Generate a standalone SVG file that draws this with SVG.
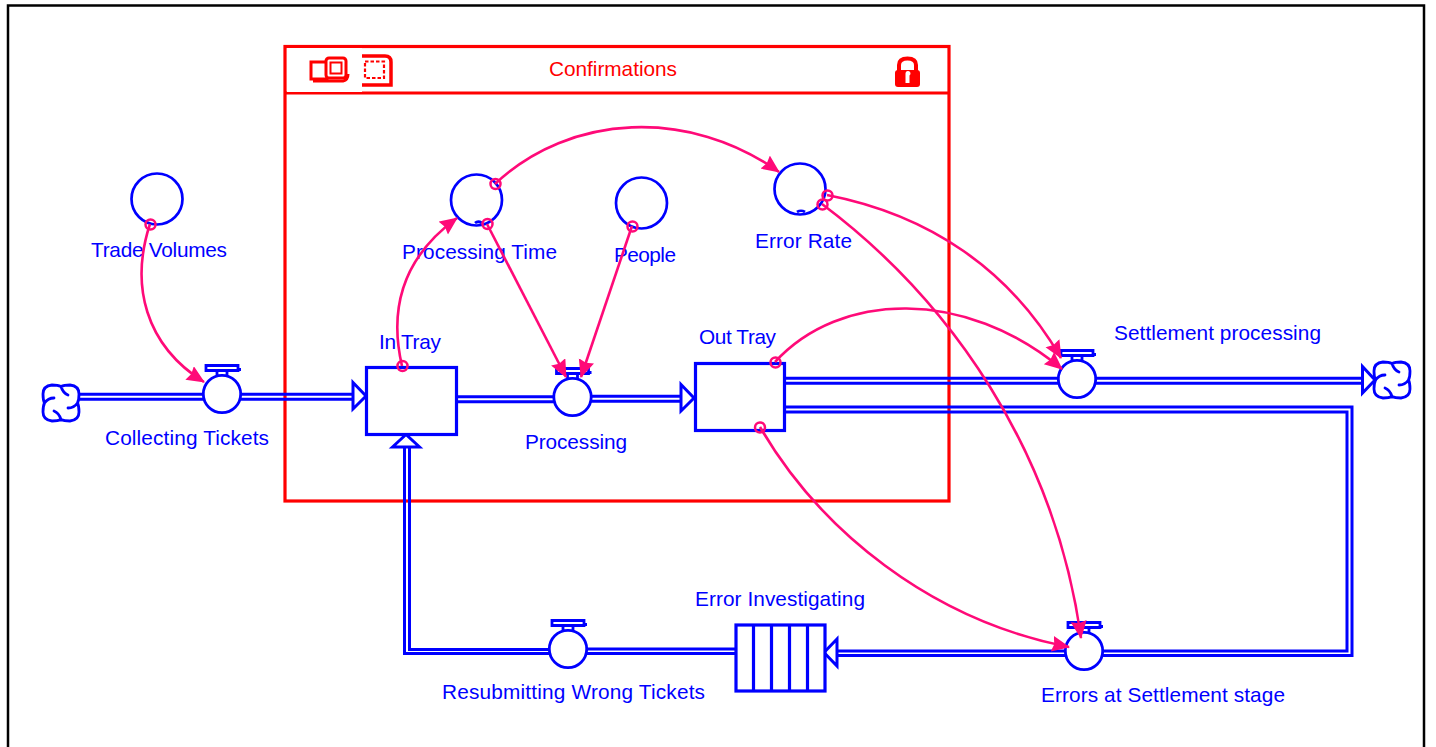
<svg xmlns="http://www.w3.org/2000/svg" width="1436" height="747" viewBox="0 0 1436 747">
<style>
text{font-family:"Liberation Sans",Arial,sans-serif;font-size:20.8px;fill:#0000ff;text-anchor:middle}
.b{fill:none;stroke:#0000ff;stroke-width:2.8;stroke-linejoin:round;stroke-linecap:round}
.box{fill:#fff;stroke:#0000ff;stroke-width:3.2}
.aux{fill:none;stroke:#0000ff;stroke-width:2.7}
.v{fill:#fff;stroke:#0000ff;stroke-width:2.8}
.hd{fill:none;stroke:#0000ff;stroke-width:2.8}
.f{fill:none;stroke:#0000ff;stroke-width:3}
.tip{fill:#fff;stroke:#0000ff;stroke-width:3;stroke-linejoin:miter}
.c{fill:none;stroke:#ff0a78;stroke-width:2.6;marker-end:url(#ah)}
.o{fill:none;stroke:#ff0a78;stroke-width:2.5}
.r{fill:none;stroke:#ff0000;stroke-width:3.2}
.ri{fill:#fff;stroke:#ff0000;stroke-width:3}
</style>
<defs>
<marker id="ah" markerUnits="userSpaceOnUse" markerWidth="20" markerHeight="18" refX="17" refY="8" orient="auto"><path d="M0,0 L18,8 L0,16 L2,8 Z" fill="#ff0a78"/></marker>
<g id="cloud"><path class="b" d="M-9,-18 Q-3,-18 0,-16.500 Q3,-18 9,-18 Q18,-17 18,-9 Q18,-3 16.500,0 Q18,3 18,9 Q18,17 9,18 Q3,18 0,16.500 Q-3,18 -9,18 Q-18,17 -18,9 Q-18,3 -16.500,0 Q-18,-3 -18,-9 Q-18,-17 -9,-18 Z M0,-16.500 Q2,-10 7,-8 M16.500,0 Q13,5 7,5 M0,16.500 Q-2,10 -7,8 M-16.500,0 Q-13,-5 -7,-5"/></g>
<g id="valve"><path class="hd" d="M-16,-28.500 H16 V-23.500 H-16 Z M16,-24.500 H19 M-5,-23.500 V-18 M5,-23.500 V-18"/><circle class="v" r="18.700"/></g>
</defs>
<rect width="1436" height="747" fill="#fff"/>
<path d="M8,747 V5.500 H1424 V747" fill="none" stroke="#000" stroke-width="2.500"/>

<g id="sector-confirmations">
<rect class="r" x="285" y="46.500" width="664" height="454.500"/>
<path class="r" d="M285,93 H949"/>
<path d="M358,56 H385 Q391,56 391,62 V85 H362" fill="none" stroke="#f00" stroke-width="3.500"/>
<rect x="365" y="61.500" width="19" height="16.500" fill="none" stroke="#f00" stroke-width="2.200" stroke-dasharray="3.500 2"/>
<rect x="287" y="48" width="75" height="44" fill="#fff"/>
<rect class="ri" x="311" y="62" width="16" height="17"/>
<rect class="ri" x="326" y="58" width="20" height="20" rx="3"/>
<rect x="330.500" y="62.500" width="11" height="11" fill="none" stroke="#f00" stroke-width="2"/>
<path d="M313,81 H343 Q348,80 348,74" fill="none" stroke="#f00" stroke-width="3"/>
<text x="613" y="76" textLength="128" style="fill:#ff0000">Confirmations</text>
<path d="M899,71 V65 Q899,58.500 907.500,58.500 Q916,58.500 916,65 V71" fill="none" stroke="#f00" stroke-width="4"/>
<path d="M898,70 H917 Q920,70 920,73 V84 Q920,87 917,87 H898 Q895,87 895,84 V73 Q895,70 898,70 Z" fill="#f00"/>
<path d="M905.500,73.500 a2.500,2.500 0 1 1 4,2 V83 H905.500 V75.500 Z" fill="#fff"/>
</g>

<g id="flows">
<path class="f" d="M79,394.300 H204 M79,399.300 H204 M240,394.300 H353 M240,399.300 H353"/>
<path class="f" d="M457,396.700 H554 M457,401.700 H554 M591,396.300 H681 M591,401.300 H681"/>
<path class="f" d="M785,378.300 H1059 M785,383.300 H1059 M1095,378.300 H1363 M1095,383.300 H1363"/>
<path class="f" d="M785,407 H1352 V655.500 H1102 M785,412 H1347 V651 H1102"/>
<path class="f" d="M1066,651 H836 M1066,655.500 H836"/>
<path class="f" d="M735,649 H586 M735,653.500 H586 M550,649.500 H409.500 V446 M550,653.500 H404.500 V446"/>
<path class="tip" d="M353,382.500 L366,396 L353,409 Z"/>
<path class="tip" d="M681,384.500 L694,398 L681,411 Z"/>
<path class="tip" d="M1362.500,366.500 L1375,380 L1362.500,393 Z"/>
<path class="tip" d="M837,639 L824,652.500 L837,666 Z"/>
<path class="tip" d="M392.500,447 L406,434.500 L419.500,447 Z"/>
</g>

<g id="cloud-source"><use href="#cloud" x="61" y="403"/></g>
<g id="cloud-sink"><use href="#cloud" x="1392" y="380"/></g>

<g id="in-tray"><rect class="box" x="366.500" y="367.500" width="90" height="67"/><text x="410" y="349" textLength="62">In Tray</text></g>
<g id="out-tray"><rect class="box" x="695.500" y="363.500" width="89" height="67"/><text x="737.500" y="344" textLength="77">Out Tray</text></g>
<g id="error-investigating"><rect class="box" x="736" y="625" width="89" height="66"/><path class="box" d="M753.500,625 V691 M771.500,625 V691 M789.500,625 V691 M807.500,625 V691"/><text x="780" y="606" textLength="170">Error Investigating</text></g>

<g id="collecting-tickets"><use href="#valve" x="222" y="394"/><text x="187" y="445" textLength="164">Collecting Tickets</text></g>
<g id="processing"><use href="#valve" x="572.500" y="397"/><text x="576" y="449" textLength="102">Processing</text></g>
<g id="settlement-processing"><use href="#valve" x="1077" y="379"/><text x="1217.500" y="340" textLength="207">Settlement processing</text></g>
<g id="errors-at-settlement"><use href="#valve" x="1084" y="651"/><text x="1163" y="702" textLength="244">Errors at Settlement stage</text></g>
<g id="resubmitting"><use href="#valve" x="568" y="649"/><text x="573.500" y="699" textLength="263">Resubmitting Wrong Tickets</text></g>

<g id="trade-volumes"><circle class="aux" cx="157" cy="199" r="25.500"/><text x="159" y="257" textLength="136">Trade Volumes</text></g>
<g id="processing-time"><circle class="aux" cx="476.500" cy="200" r="25.500"/><path class="aux" d="M475,223 Q478,220.500 482,223" stroke-width="1.500"/><text x="479.500" y="259" textLength="155">Processing Time</text></g>
<g id="people"><circle class="aux" cx="641.500" cy="203" r="25.500"/><text x="645" y="262" textLength="62">People</text></g>
<g id="error-rate"><circle class="aux" cx="800" cy="189" r="25.500"/><path class="aux" d="M797,212 Q801,209.500 805,212" stroke-width="1.500"/><text x="803.500" y="248" textLength="97">Error Rate</text></g>

<g id="connectors">
<path class="c" d="M150,224 C130,285 145,345 204,382"/>
<path class="c" d="M402,366 C389,310 402,258 457,218"/>
<path class="c" d="M495,184 C570,113 690,108 779,172"/>
<path class="c" d="M487,224 L566,377"/>
<path class="c" d="M632,226 L581,377"/>
<path class="c" d="M827,195 C930,215 1010,270 1061,358"/>
<path class="c" d="M822,204 C950,300 1055,450 1081,638"/>
<path class="c" d="M775,362 C840,291 965,288 1062,369"/>
<path class="c" d="M760,427 C820,530 930,620 1069,647"/>
<circle class="o" cx="150.500" cy="224.500" r="5"/>
<circle class="o" cx="402.500" cy="366" r="5"/>
<circle class="o" cx="495.500" cy="184" r="5"/>
<circle class="o" cx="487.500" cy="224" r="5"/>
<circle class="o" cx="632.500" cy="226.500" r="5"/>
<circle class="o" cx="827.500" cy="195.500" r="5"/>
<circle class="o" cx="822.500" cy="204.500" r="5"/>
<circle class="o" cx="775.500" cy="362.500" r="5"/>
<circle class="o" cx="760" cy="427.500" r="5"/>
</g>
</svg>
